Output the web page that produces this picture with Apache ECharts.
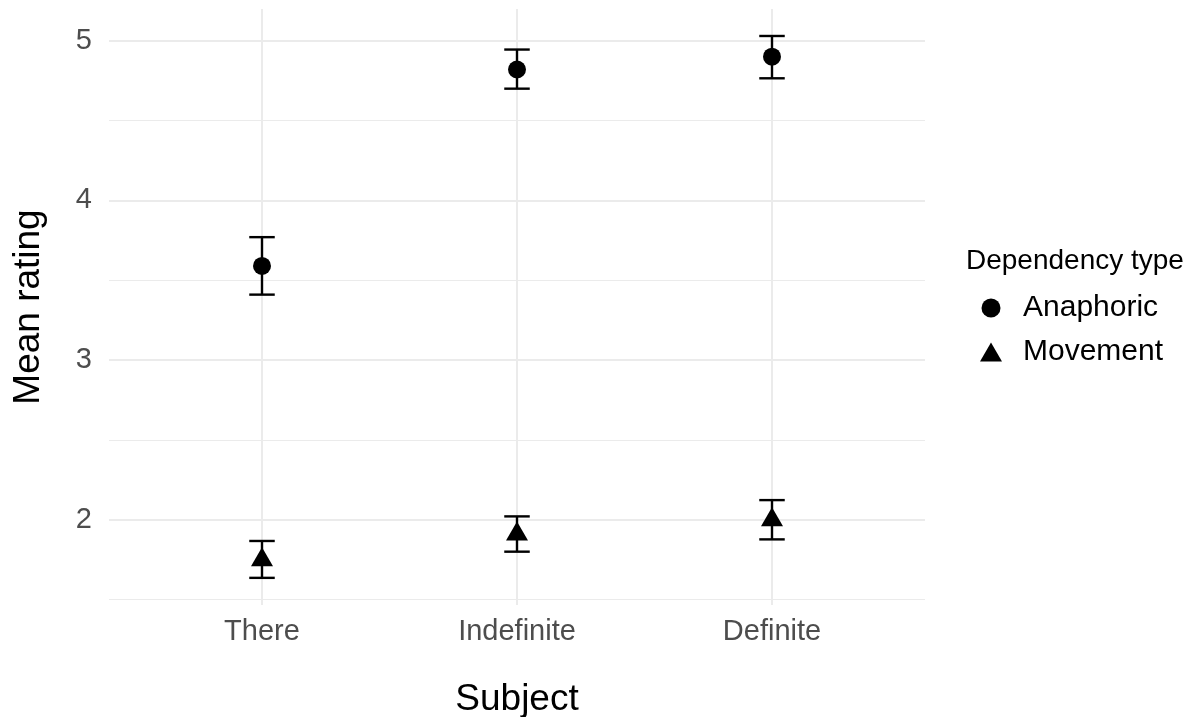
<!DOCTYPE html>
<html><head><meta charset="utf-8">
<script src="https://cdn.jsdelivr.net/npm/echarts@6/dist/echarts.min.js"></script>
<style>html,body{margin:0;padding:0;background:#fff}#c{width:1190px;height:717px}</style>
</head><body><div id="c"></div>
<script>
const categories = ['There', 'Indefinite', 'Definite'];
const seriesNames = ['Anaphoric', 'Movement'];
const anaphoricMean = [3.59, 4.82, 4.90];
const anaphoricLow = [3.41, 4.70, 4.765];
const anaphoricHigh = [3.77, 4.945, 5.03];
const movementMean = [1.75, 1.91, 2.00];
const movementLow = [1.636, 1.80, 1.877];
const movementHigh = [1.867, 2.021, 2.123];
const yMajorTicks = [2, 3, 4, 5];
const yMinorTicks = [1.5, 2.5, 3.5, 4.5];
const xTicks = [1, 2, 3];
const yMin = 1.466, yMax = 5.199;

const FONT = '"Liberation Sans", Arial, Helvetica, sans-serif';
const capHalf = 0.05;

function pts(means) { return means.map((m, i) => [i + 1, m]); }
function bars(lo, hi) { return lo.map((l, i) => [i + 1, l, hi[i]]); }

function renderErr(params, api) {
  const x = api.value(0), lo = api.value(1), hi = api.value(2);
  const pLo = api.coord([x, lo]), pHi = api.coord([x, hi]);
  const l = api.coord([x - capHalf, lo])[0], r = api.coord([x + capHalf, lo])[0];
  const style = { stroke: '#000', lineWidth: 2.4, fill: null };
  return { type: 'group', children: [
    { type: 'line', shape: { x1: pLo[0], y1: pLo[1], x2: pHi[0], y2: pHi[1] }, style },
    { type: 'line', shape: { x1: l, y1: pHi[1], x2: r, y2: pHi[1] }, style },
    { type: 'line', shape: { x1: l, y1: pLo[1], x2: r, y2: pLo[1] }, style }
  ]};
}

const chart = echarts.init(document.getElementById('c'), null, { renderer: 'canvas' });
chart.setOption({
  animation: false,
  backgroundColor: '#fff',
  textStyle: { fontFamily: FONT },
  title: {
    text: 'Dependency type', left: 961, top: 242,
    textStyle: { fontSize: 28, fontWeight: 'normal', color: '#000', fontFamily: FONT }
  },
  legend: {
    data: seriesNames, orient: 'vertical', left: 975, top: 288,
    itemWidth: 22, itemHeight: 19, itemGap: 14,
    textStyle: { fontSize: 30, color: '#000', fontFamily: FONT, padding: [0, 0, 0, 16] }
  },
  grid: { left: 109, right: 265, top: 9, bottom: 112, containLabel: false, outerBoundsMode: 'none' },
  xAxis: {
    type: 'value', min: 0.4, max: 3.6,
    axisLine: { show: false },
    axisTick: { show: false, customValues: xTicks },
    axisLabel: { customValues: xTicks, formatter: v => categories[Math.round(v) - 1],
      fontSize: 29, color: '#4D4D4D', margin: 12, fontFamily: FONT },
    splitLine: { show: true, lineStyle: { color: '#EBEBEB', width: 2 } },
    name: 'Subject', nameLocation: 'middle', nameGap: 76,
    nameTextStyle: { fontSize: 37, color: '#000', fontFamily: FONT }
  },
  yAxis: [{
    type: 'value', min: yMin, max: yMax,
    axisLine: { show: false },
    axisTick: { show: false, customValues: yMajorTicks },
    axisLabel: { customValues: yMajorTicks, fontSize: 29, color: '#4D4D4D', margin: 17, fontFamily: FONT },
    splitLine: { show: true, lineStyle: { color: '#EBEBEB', width: 2 } },
    name: 'Mean rating', nameLocation: 'middle', nameGap: 62, nameRotate: 90,
    nameTextStyle: { fontSize: 37, color: '#000', fontFamily: FONT }
  }, {
    type: 'value', min: yMin, max: yMax, position: 'left',
    axisLine: { show: false },
    axisTick: { show: false, customValues: yMinorTicks },
    axisLabel: { show: false, customValues: yMinorTicks },
    splitLine: { show: true, lineStyle: { color: '#EBEBEB', width: 1.2 } }
  }],
  series: [
    { type: 'custom', name: 'errA', renderItem: renderErr, data: bars(anaphoricLow, anaphoricHigh),
      encode: { x: 0, y: [1, 2] }, clip: false, z: 3, silent: true },
    { type: 'custom', name: 'errM', renderItem: renderErr, data: bars(movementLow, movementHigh),
      encode: { x: 0, y: [1, 2] }, clip: false, z: 3, silent: true },
    { type: 'scatter', name: seriesNames[0], data: pts(anaphoricMean), symbol: 'circle', symbolSize: 18,
      itemStyle: { color: '#000', opacity: 1 }, z: 4 },
    { type: 'scatter', name: seriesNames[1], data: pts(movementMean), symbol: 'triangle', symbolSize: [22, 19],
      symbolOffset: [0, -3], itemStyle: { color: '#000', opacity: 1 }, z: 4 }
  ]
});
</script>
</body></html>
